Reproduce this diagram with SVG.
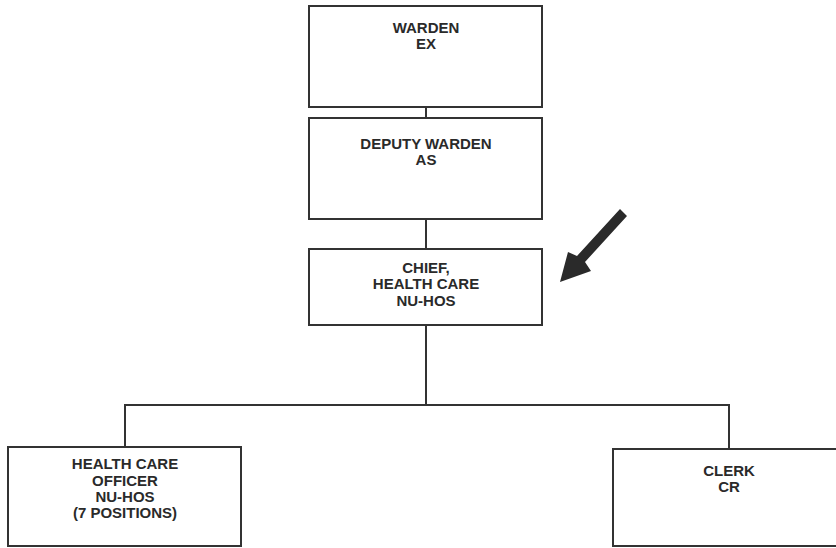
<svg xmlns="http://www.w3.org/2000/svg" width="836" height="548" viewBox="0 0 836 548">
<style>
.box{fill:#fff;stroke:#333;stroke-width:2}
.ln{fill:none;stroke:#333;stroke-width:2}
text{font-family:"Liberation Sans",Arial,sans-serif;font-weight:bold;font-size:15px;fill:#2a2a2a;text-anchor:middle}
</style>
<rect width="836" height="548" fill="#fff"/>
<g id="connectors">
<path class="ln" d="M426 107V118M426 219V249M426 325V405M125 447V405H729V449"/>
</g>
<g id="warden">
<rect class="box" x="309" y="6" width="233" height="101"/>
<text x="426" y="33">WARDEN</text>
<text x="426" y="49">EX</text>
</g>
<g id="deputy">
<rect class="box" x="309" y="118" width="233" height="101"/>
<text x="426" y="149">DEPUTY WARDEN</text>
<text x="426" y="165">AS</text>
</g>
<g id="chief">
<rect class="box" x="309" y="249" width="233" height="76"/>
<text x="426" y="273">CHIEF,</text>
<text x="426" y="289">HEALTH CARE</text>
<text x="426" y="306">NU-HOS</text>
</g>
<g id="officer">
<rect class="box" x="8" y="447" width="233" height="99"/>
<text x="125" y="469">HEALTH CARE</text>
<text x="125" y="486">OFFICER</text>
<text x="125" y="502">NU-HOS</text>
<text x="125" y="518">(7  POSITIONS)</text>
</g>
<g id="clerk">
<rect class="box" x="613" y="449" width="240" height="97"/>
<text x="729" y="476">CLERK</text>
<text x="729" y="492">CR</text>
</g>
<g id="arrow">
<polygon points="620,209 627,216 585,262 591,271 560,282 568,252 577,256" fill="#2a2a2a"/>
</g>
</svg>
